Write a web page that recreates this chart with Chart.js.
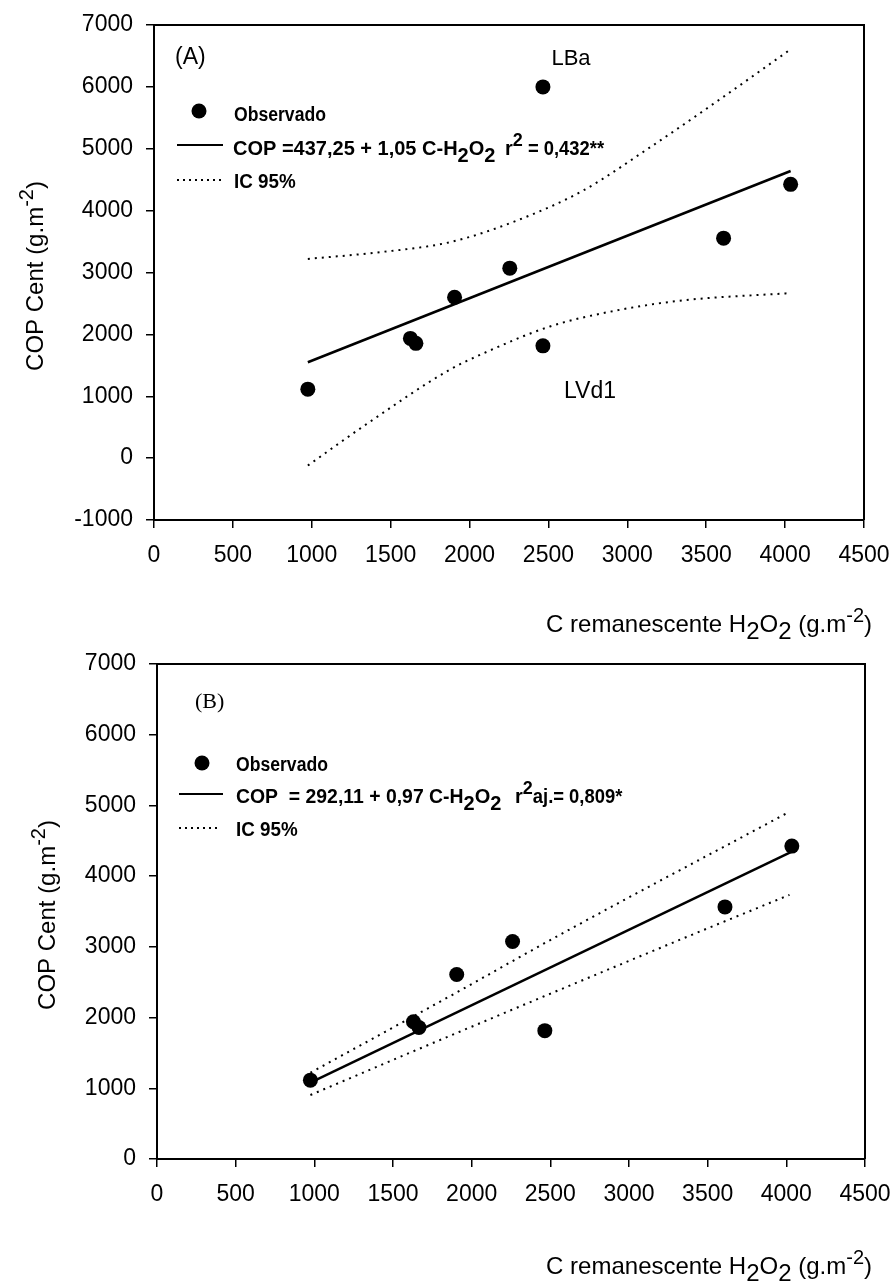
<!DOCTYPE html>
<html>
<head>
<meta charset="utf-8">
<script src="https://cdn.jsdelivr.net/npm/chart.js@4"></script>
<style>
  html, body { margin: 0; padding: 0; background: #fff; }
  body { width: 896px; height: 1287px; position: relative; overflow: hidden; }
  canvas { position: absolute; left: 0; }
  #chartA { top: 0; }
  #chartB { top: 630px; }
</style>
</head>
<body>
<canvas id="chartA" width="896" height="660"></canvas>
<canvas id="chartB" width="896" height="657"></canvas>
<script>
// Tick values
const X_TICKS = [0, 500, 1000, 1500, 2000, 2500, 3000, 3500, 4000, 4500];
const Y_TICKS_A = [-1000, 0, 1000, 2000, 3000, 4000, 5000, 6000, 7000];
const Y_TICKS_B = [0, 1000, 2000, 3000, 4000, 5000, 6000, 7000];

// (A) all soils
const obsX_A = [975, 1625, 1660, 1905, 2255, 2465, 2465, 3610, 4035];
const obsY_A = [1115, 1935, 1855, 2600, 3070, 1815, 6000, 3555, 4425];
const fitX_A = [975, 4035];
const fitY_A = [1550, 4640];
const upX_A = [975, 1400, 1875, 2300, 2720, 3145, 3565, 4020];
const upY_A = [3220, 3320, 3490, 3840, 4325, 5025, 5760, 6580];
const loX_A = [975, 1350, 1875, 2085, 2510, 2930, 3355, 4020];
const loY_A = [-120, 555, 1430, 1690, 2128, 2386, 2550, 2665];

// (B) without LBa
const obsX_B = [975, 1630, 1665, 1905, 2260, 2465, 3610, 4035];
const obsY_B = [1115, 1940, 1860, 2610, 3075, 1815, 3565, 4425];
const fitX_B = [975, 4035];
const fitY_B = [1080, 4345];
const upX_B = [975, 1860, 2560, 4020];
const upY_B = [1220, 2300, 3170, 4910];
const loX_B = [975, 1860, 3345, 4020];
const loY_B = [905, 1740, 3120, 3735];

const FAMILY = '"Liberation Sans", Arial, Helvetica, sans-serif';
const f = (size, bold) => (bold ? 'bold ' : '') + size + 'px ' + FAMILY;

const pairs = (xs, ys) => xs.map((x, i) => ({ x: x, y: ys[i] }));

// text runs with optional baseline shift (dy) and horizontal squeeze (sx)
function richWidth(ctx, parts) {
  let w = 0;
  for (const p of parts) { ctx.font = p.font; w += ctx.measureText(p.t).width * (p.sx || 1); }
  return w;
}
function drawRich(ctx, parts, x, y, align) {
  const total = richWidth(ctx, parts);
  let cx = align === 'right' ? x - total : align === 'center' ? x - total / 2 : x;
  ctx.textAlign = 'left';
  ctx.textBaseline = 'alphabetic';
  for (const p of parts) {
    ctx.font = p.font;
    const sx = p.sx || 1;
    ctx.save();
    ctx.translate(cx, y + (p.dy || 0));
    ctx.scale(sx, 1);
    ctx.fillText(p.t, 0, 0);
    ctx.restore();
    cx += ctx.measureText(p.t).width * sx;
  }
}

const TITLE = 24;
const xTitleParts = [
  { t: 'C remanescente H', font: f(TITLE) },
  { t: '2', font: f(TITLE), dy: 7 },
  { t: 'O', font: f(TITLE) },
  { t: '2', font: f(TITLE), dy: 7 },
  { t: ' (g.m', font: f(TITLE) },
  { t: '-2', font: f(20), dy: -10 },
  { t: ')', font: f(TITLE) }
];
const yTitleParts = [
  { t: 'COP Cent (g.m', font: f(TITLE) },
  { t: '-2', font: f(20), dy: -10 },
  { t: ')', font: f(TITLE) }
];

const LEG = f(20, true);

function decoPlugin(d) {
  return {
    id: 'deco',
    afterDraw(chart) {
      const ctx = chart.ctx;
      const a = chart.chartArea;
      const off = d.offset;
      ctx.save();
      ctx.fillStyle = '#000';
      ctx.strokeStyle = '#000';

      // frame: top and right sides
      ctx.lineWidth = 2;
      ctx.setLineDash([]);
      ctx.beginPath();
      ctx.moveTo(a.left, a.top);
      ctx.lineTo(a.right, a.top);
      ctx.lineTo(a.right, a.bottom);
      ctx.stroke();

      // panel tag
      ctx.font = d.tag.font;
      ctx.textAlign = 'left';
      ctx.textBaseline = 'alphabetic';
      ctx.fillText(d.tag.t, d.tag.x, d.tag.y - off);

      // legend
      const L = d.legend;
      ctx.beginPath();
      ctx.arc(L.markX, L.markY - off, 7.5, 0, Math.PI * 2);
      ctx.fill();
      drawRich(ctx, [{ t: 'Observado', font: LEG, sx: 0.88 }], L.textX, L.obsY - off, 'left');

      ctx.lineWidth = 2;
      ctx.beginPath();
      ctx.moveTo(L.lineX0, L.solidY - off);
      ctx.lineTo(L.lineX1, L.solidY - off);
      ctx.stroke();
      drawRich(ctx, L.eq1, L.eqX, L.eqY - off, 'left');
      drawRich(ctx, L.eq2, L.eq2X, L.eqY - off, 'left');

      ctx.setLineDash([2, 4]);
      ctx.beginPath();
      ctx.moveTo(L.lineX0, L.dotY - off);
      ctx.lineTo(L.lineX1 - 2, L.dotY - off);
      ctx.stroke();
      ctx.setLineDash([]);
      drawRich(ctx, [{ t: 'IC 95%', font: LEG, sx: 0.94 }], L.textX, L.icY - off, 'left');

      // point annotations
      for (const n of d.notes) {
        ctx.font = f(n.size);
        ctx.textAlign = 'center';
        ctx.fillText(n.t, n.x, n.y - off);
      }

      // axis titles
      drawRich(ctx, xTitleParts, d.xTitle.x, d.xTitle.y - off, 'right');
      ctx.save();
      ctx.translate(d.yTitle.x, d.yTitle.y - off);
      ctx.rotate(-Math.PI / 2);
      drawRich(ctx, yTitleParts, 0, 0, 'center');
      ctx.restore();

      ctx.restore();
    }
  };
}

function makeChart(id, s) {
  const tickFont = { family: FAMILY, size: 23 };
  const axisCommon = {
    type: 'linear',
    grid: { display: true, drawOnChartArea: false, drawTicks: true, tickLength: 8, color: '#000', lineWidth: 1.5 },
    border: { display: true, color: '#000', width: 2 },
    ticks: { color: '#000', font: tickFont, autoSkip: false, maxRotation: 0, callback: v => String(v) }
  };
  return new Chart(document.getElementById(id), {
    type: 'scatter',
    data: {
      datasets: [
        {
          data: pairs(s.upX, s.upY), showLine: true, borderColor: '#000', borderWidth: 2,
          borderDash: [2, 5], pointRadius: 0, tension: 0.4, cubicInterpolationMode: 'monotone', fill: false
        },
        {
          data: pairs(s.loX, s.loY), showLine: true, borderColor: '#000', borderWidth: 2,
          borderDash: [2, 5], pointRadius: 0, tension: 0.4, cubicInterpolationMode: 'monotone', fill: false
        },
        {
          data: pairs(s.fitX, s.fitY), showLine: true, borderColor: '#000', borderWidth: 2.5,
          pointRadius: 0, fill: false
        },
        {
          data: pairs(s.obsX, s.obsY), showLine: false, pointRadius: 7.5,
          pointBackgroundColor: '#000', pointBorderColor: '#000', pointBorderWidth: 0
        }
      ]
    },
    options: {
      responsive: false,
      animation: false,
      events: [],
      layout: { padding: { top: s.padTop, right: s.padRight, bottom: 0, left: 0 } },
      plugins: { legend: { display: false }, tooltip: { enabled: false } },
      scales: {
        x: Object.assign({}, axisCommon, {
          min: 0, max: 4500,
          afterBuildTicks: sc => { sc.ticks = X_TICKS.map(v => ({ value: v })); },
          afterFit: sc => { sc.height = s.xHeight; sc.paddingLeft = 0; sc.paddingRight = 0; },
          ticks: Object.assign({}, axisCommon.ticks, { padding: 14 })
        }),
        y: Object.assign({}, axisCommon, {
          min: s.yTicks[0], max: s.yTicks[s.yTicks.length - 1],
          afterBuildTicks: sc => { sc.ticks = s.yTicks.map(v => ({ value: v })); },
          afterFit: sc => { sc.width = s.yWidth; sc.paddingTop = 0; sc.paddingBottom = 0; },
          ticks: Object.assign({}, axisCommon.ticks, { padding: 13 })
        })
      }
    },
    plugins: [decoPlugin(s.deco)]
  });
}

makeChart('chartA', {
  obsX: obsX_A, obsY: obsY_A, fitX: fitX_A, fitY: fitY_A,
  upX: upX_A, upY: upY_A, loX: loX_A, loY: loY_A,
  yTicks: Y_TICKS_A,
  padTop: 25, padRight: 32, yWidth: 154, xHeight: 140,
  deco: {
    offset: 0,
    tag: { t: '(A)', font: f(23), x: 175, y: 64 },
    legend: {
      markX: 199, markY: 111, textX: 234, obsY: 121,
      lineX0: 177, lineX1: 223, solidY: 145, dotY: 180, icY: 188,
      eqX: 233, eq2X: 505, eqY: 155,
      eq1: [
        { t: 'COP =437,25 + 1,05 C-H', font: LEG },
        { t: '2', font: LEG, dy: 7 },
        { t: 'O', font: LEG },
        { t: '2', font: LEG, dy: 7 }
      ],
      eq2: [
        { t: 'r', font: LEG },
        { t: '2', font: f(18, true), dy: -9 },
        { t: ' = 0,432**', font: LEG, sx: 0.92 }
      ]
    },
    notes: [
      { t: 'LBa', x: 571, y: 65, size: 22 },
      { t: 'LVd1', x: 590, y: 398, size: 23 }
    ],
    xTitle: { x: 872, y: 632 },
    yTitle: { x: 43, y: 276 }
  }
});

makeChart('chartB', {
  obsX: obsX_B, obsY: obsY_B, fitX: fitX_B, fitY: fitY_B,
  upX: upX_B, upY: upY_B, loX: loX_B, loY: loY_B,
  yTicks: Y_TICKS_B,
  padTop: 34, padRight: 31, yWidth: 157, xHeight: 128,
  deco: {
    offset: 630,
    tag: { t: '(B)', font: '22px "Liberation Serif", "Times New Roman", serif', x: 195, y: 708 },
    legend: {
      markX: 202, markY: 763, textX: 236, obsY: 771,
      lineX0: 179, lineX1: 223, solidY: 794, dotY: 828, icY: 836,
      eqX: 236, eq2X: 515, eqY: 803,
      eq1: [
        { t: 'COP  = 292,11 + 0,97 C-H', font: LEG, sx: 0.97 },
        { t: '2', font: LEG, dy: 7 },
        { t: 'O', font: LEG },
        { t: '2', font: LEG, dy: 7 }
      ],
      eq2: [
        { t: 'r', font: LEG },
        { t: '2', font: f(18, true), dy: -9 },
        { t: 'aj.= 0,809*', font: LEG, sx: 0.92 }
      ]
    },
    notes: [],
    xTitle: { x: 872, y: 1274 },
    yTitle: { x: 55, y: 915 }
  }
});
</script>
</body>
</html>
